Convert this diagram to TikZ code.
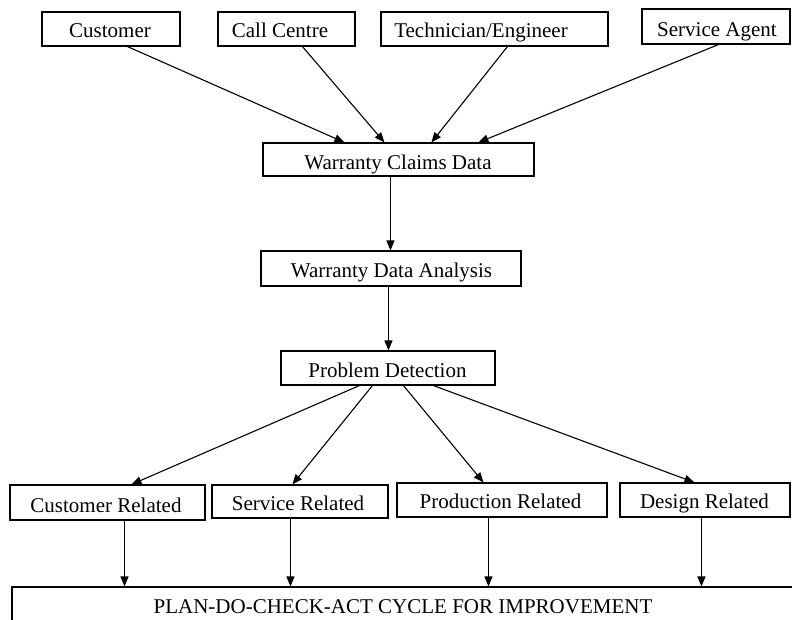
\documentclass[tikz,border=0pt]{standalone}
\usepackage{fontspec}
\setmainfont{Liberation Serif}
\usetikzlibrary{arrows.meta,fit}
\begin{document}
\begin{tikzpicture}[x=1pt,y=-1pt,
 box/.style={draw=black, line width=1.1pt, inner sep=0pt, rectangle},
 lbl/.style={anchor=base, inner sep=0pt, font=\fontsize{21}{24}\selectfont},
 arr/.style={draw=black, line width=1.1pt, -{Triangle[length=10pt,width=8pt]}}]
\clip (0,0) rectangle (792,619);
\fill[white] (0,0) rectangle (792,619);
% boxes
\node[box, fit={(42,12) (180,46)}] (cust) {};
\node[box, fit={(218,12) (355,46)}] (cc) {};
\node[box, fit={(381,12) (608,46)}] (tech) {};
\node[box, fit={(642,9) (790,44)}] (agent) {};
\node[box, fit={(263,143) (534,176)}] (wcd) {};
\node[box, fit={(261,251) (521,286)}] (wda) {};
\node[box, fit={(281,351) (495,385)}] (pd) {};
\node[box, fit={(10,485) (205,520)}] (cr) {};
\node[box, fit={(212,485) (388,518)}] (sr) {};
\node[box, fit={(397,483) (607,517)}] (prr) {};
\node[box, fit={(620,483) (790,517)}] (dr) {};
\node[box, fit={(12,587) (810,650)}] (pdca) {};
% labels
\node[lbl] (custt) at (110,37) {Customer};
\node[lbl] (cct) at (280,37) {Call Centre};
\node[lbl] (techt) at (481,37) {Technician/Engineer};
\node[lbl] (agentt) at (717,36) {Service Agent};
\node[lbl] (wcdt) at (398,169) {Warranty Claims Data};
\node[lbl] (wdat) at (391.5,277) {Warranty Data Analysis};
\node[lbl] (pdt) at (387.5,377) {Problem Detection};
\node[lbl] (crt) at (106,512) {Customer Related};
\node[lbl] (srt) at (298,510) {Service Related};
\node[lbl] (prrt) at (500.5,508) {Production Related};
\node[lbl] (drt) at (704.5,508) {Design Related};
\node[lbl] (pdcat) at (403,613) {PLAN-DO-CHECK-ACT CYCLE FOR IMPROVEMENT};
% arrows
\draw[arr] ([xshift=86pt]cust.south west) -- ([xshift=82pt]wcd.north west);
\draw[arr] ([xshift=85pt]cc.south west) -- ([xshift=122pt]wcd.north west);
\draw[arr] ([xshift=127pt]tech.south west) -- ([xshift=169pt]wcd.north west);
\draw[arr] ([xshift=77pt]agent.south west) -- ([xshift=216pt]wcd.north west);
\draw[arr] ([xshift=128pt]wcd.south west) -- ([xshift=130pt]wda.north west);
\draw[arr] ([xshift=128pt]wda.south west) -- ([xshift=108pt]pd.north west);
\draw[arr] ([xshift=79pt]pd.south west) -- ([xshift=122pt]cr.north west);
\draw[arr] ([xshift=92pt]pd.south west) -- ([xshift=81pt]sr.north west);
\draw[arr] ([xshift=123pt]pd.south west) -- ([xshift=87pt]prr.north west);
\draw[arr] ([xshift=153pt]pd.south west) -- ([xshift=75pt]dr.north west);
\draw[arr] ([xshift=115pt]cr.south west) -- ([xshift=113pt]pdca.north west);
\draw[arr] ([xshift=79pt]sr.south west) -- ([xshift=279pt]pdca.north west);
\draw[arr] ([xshift=92pt]prr.south west) -- ([xshift=477pt]pdca.north west);
\draw[arr] ([xshift=82pt]dr.south west) -- ([xshift=690pt]pdca.north west);
\end{tikzpicture}
\end{document}
